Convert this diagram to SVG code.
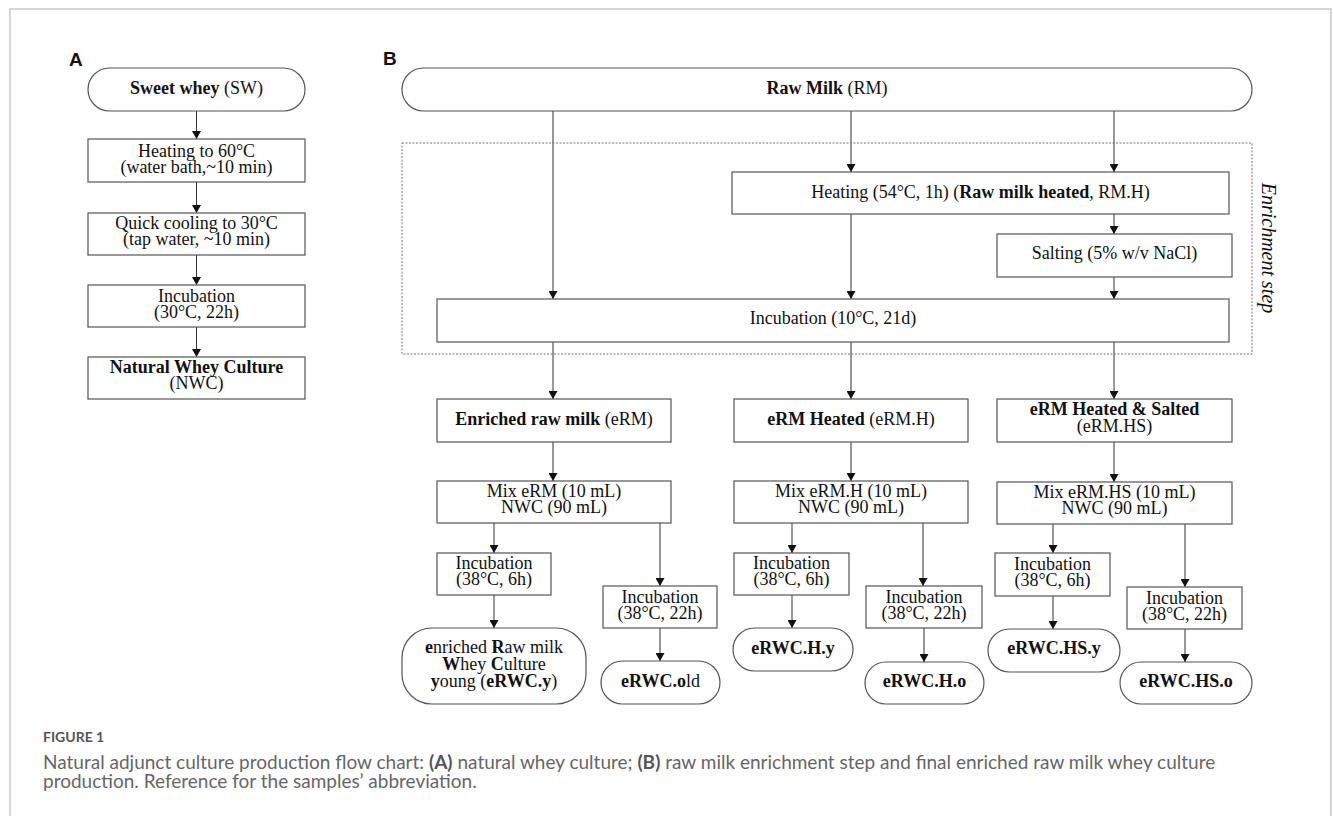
<svg xmlns="http://www.w3.org/2000/svg" width="1333" height="816" viewBox="0 0 1333 816">
<style>
.box{fill:#fff;stroke:#555;stroke-width:1.2}
.dash{fill:none;stroke:#777;stroke-width:1;stroke-dasharray:2,1.5}
.t{font-family:"Liberation Serif","Times New Roman",serif;font-size:18px;fill:#111;text-anchor:middle}
.b{font-weight:bold}
.lbl{font-family:"Liberation Sans",Arial,sans-serif;font-size:19px;font-weight:bold;fill:#111}
.con line{stroke:#333;stroke-width:1;marker-end:url(#ah)}
.cap{font-family:Lato,"Open Sans",sans-serif;fill:#666}
</style>
<defs>
<marker id="ah" markerUnits="userSpaceOnUse" markerWidth="8" markerHeight="9" refX="8" refY="4.5" orient="auto">
<path d="M0,0 L8,4.5 L0,9 z" fill="#111"/>
</marker>
</defs>
<rect x="10" y="9" width="1321" height="830" fill="none" stroke="#bbb" stroke-width="1.2"/>
<text class="lbl" x="69" y="66">A</text>
<text class="lbl" x="383" y="65">B</text>

<g id="connectors" class="con">
<line x1="196.5" y1="111" x2="196.5" y2="139"/>
<line x1="196.5" y1="182" x2="196.5" y2="213"/>
<line x1="196.5" y1="255" x2="196.5" y2="285"/>
<line x1="196.5" y1="327" x2="196.5" y2="357"/>
<line x1="553" y1="111" x2="553" y2="299"/>
<line x1="851" y1="111" x2="851" y2="172"/>
<line x1="1114" y1="111" x2="1114" y2="172"/>
<line x1="851" y1="214" x2="851" y2="299"/>
<line x1="1114" y1="214" x2="1114" y2="234"/>
<line x1="1114" y1="277" x2="1114" y2="299"/>
<line x1="553" y1="342" x2="553" y2="399"/>
<line x1="851" y1="342" x2="851" y2="399"/>
<line x1="1114" y1="342" x2="1114" y2="399"/>
<line x1="553" y1="442" x2="553" y2="481"/>
<line x1="851" y1="442" x2="851" y2="481"/>
<line x1="1114" y1="442" x2="1114" y2="482"/>
<line x1="494" y1="523" x2="494" y2="553"/>
<line x1="660" y1="523" x2="660" y2="586"/>
<line x1="792" y1="523" x2="792" y2="553"/>
<line x1="923" y1="523" x2="923" y2="586"/>
<line x1="1053" y1="524" x2="1053" y2="553"/>
<line x1="1185" y1="524" x2="1185" y2="587"/>
<line x1="494" y1="595" x2="494" y2="628"/>
<line x1="660" y1="628" x2="660" y2="661"/>
<line x1="792" y1="595" x2="792" y2="628"/>
<line x1="924" y1="628" x2="924" y2="662"/>
<line x1="1053" y1="596" x2="1053" y2="629"/>
<line x1="1185" y1="629" x2="1185" y2="662"/>
</g>

<g id="sw"><rect class="box" x="88" y="68" width="217" height="43" rx="21.5"/>
<text class="t" x="196.5" y="94"><tspan class="b">Sweet whey</tspan> (SW)</text></g>
<g id="heatA"><rect class="box" x="88" y="139" width="217" height="43"/>
<text class="t" x="196.5" y="157">Heating to 60°C</text><text class="t" x="196.5" y="173">(water bath,~10 min)</text></g>
<g id="coolA"><rect class="box" x="88" y="213" width="217" height="42"/>
<text class="t" x="196.5" y="229">Quick cooling to 30°C</text><text class="t" x="196.5" y="245">(tap water, ~10 min)</text></g>
<g id="incA"><rect class="box" x="88" y="285" width="217" height="42"/>
<text class="t" x="196.5" y="302">Incubation</text><text class="t" x="196.5" y="318">(30°C, 22h)</text></g>
<g id="nwc"><rect class="box" x="88" y="357" width="217" height="42"/>
<text class="t b" x="196.5" y="373">Natural Whey Culture</text><text class="t" x="196.5" y="389">(NWC)</text></g>

<g id="enrichment"><rect class="dash" x="402" y="143" width="850" height="211"/>
<text class="t" style="font-style:italic;font-size:20px" transform="translate(1262,248) rotate(90)">Enrichment step</text></g>
<g id="rm"><rect class="box" x="402" y="68" width="850" height="43" rx="21.5"/>
<text class="t" x="827" y="94"><tspan class="b">Raw Milk</tspan> (RM)</text></g>
<g id="heatB"><rect class="box" x="732" y="172" width="497" height="42"/>
<text class="t" x="980.5" y="198">Heating (54°C, 1h) (<tspan class="b">Raw milk heated</tspan>, RM.H)</text></g>
<g id="salt"><rect class="box" x="997" y="234" width="235" height="43"/>
<text class="t" x="1114.5" y="259">Salting (5% w/v NaCl)</text></g>
<g id="inc10"><rect class="box" x="437" y="299" width="792" height="43"/>
<text class="t" x="833" y="324">Incubation (10°C, 21d)</text></g>

<g id="erm"><rect class="box" x="437" y="399" width="234" height="43"/>
<text class="t" x="554" y="425"><tspan class="b">Enriched raw milk</tspan> (eRM)</text></g>
<g id="ermh"><rect class="box" x="734" y="399" width="234" height="43"/>
<text class="t" x="851" y="425"><tspan class="b">eRM Heated</tspan> (eRM.H)</text></g>
<g id="ermhs"><rect class="box" x="997" y="399" width="235" height="43"/>
<text class="t b" x="1114.5" y="415">eRM Heated &amp; Salted</text><text class="t" x="1114.5" y="432">(eRM.HS)</text></g>

<g id="mix1"><rect class="box" x="437" y="481" width="234" height="42"/>
<text class="t" x="554" y="497">Mix eRM (10 mL)</text><text class="t" x="554" y="513">NWC (90 mL)</text></g>
<g id="mix2"><rect class="box" x="734" y="481" width="234" height="42"/>
<text class="t" x="851" y="497">Mix eRM.H (10 mL)</text><text class="t" x="851" y="513">NWC (90 mL)</text></g>
<g id="mix3"><rect class="box" x="997" y="482" width="235" height="42"/>
<text class="t" x="1114.5" y="498">Mix eRM.HS (10 mL)</text><text class="t" x="1114.5" y="514">NWC (90 mL)</text></g>

<g id="inc6a"><rect class="box" x="437" y="553" width="114" height="42"/>
<text class="t" x="494" y="569">Incubation</text><text class="t" x="494" y="585">(38°C, 6h)</text></g>
<g id="inc6b"><rect class="box" x="734" y="553" width="115" height="42"/>
<text class="t" x="791.5" y="569">Incubation</text><text class="t" x="791.5" y="585">(38°C, 6h)</text></g>
<g id="inc6c"><rect class="box" x="995" y="553" width="115" height="43"/>
<text class="t" x="1052.5" y="570">Incubation</text><text class="t" x="1052.5" y="586">(38°C, 6h)</text></g>

<g id="inc22a"><rect class="box" x="603" y="586" width="114" height="42"/>
<text class="t" x="660" y="603">Incubation</text><text class="t" x="660" y="619">(38°C, 22h)</text></g>
<g id="inc22b"><rect class="box" x="866" y="586" width="116" height="42"/>
<text class="t" x="924" y="603">Incubation</text><text class="t" x="924" y="619">(38°C, 22h)</text></g>
<g id="inc22c"><rect class="box" x="1127" y="587" width="115" height="42"/>
<text class="t" x="1184.5" y="604">Incubation</text><text class="t" x="1184.5" y="620">(38°C, 22h)</text></g>

<g id="erwcy"><rect class="box" x="402" y="628" width="184" height="76" rx="30"/>
<text class="t" x="494" y="653"><tspan class="b">e</tspan>nriched <tspan class="b">R</tspan>aw milk</text>
<text class="t" x="494" y="670"><tspan class="b">W</tspan>hey <tspan class="b">C</tspan>ulture</text>
<text class="t" x="494" y="687"><tspan class="b">y</tspan>oung (<tspan class="b">eRWC.y</tspan>)</text></g>
<g id="erwcold"><rect class="box" x="601" y="661" width="119" height="43" rx="21.5"/>
<text class="t" x="660.5" y="687"><tspan class="b">eRWC.o</tspan>ld</text></g>
<g id="erwchy"><rect class="box" x="733" y="628" width="120" height="43" rx="21.5"/>
<text class="t b" x="793" y="654">eRWC.H.y</text></g>
<g id="erwcho"><rect class="box" x="865" y="662" width="119" height="42" rx="21"/>
<text class="t b" x="924.5" y="687">eRWC.H.o</text></g>
<g id="erwchsy"><rect class="box" x="988" y="629" width="132" height="43" rx="21.5"/>
<text class="t b" x="1054" y="654">eRWC.HS.y</text></g>
<g id="erwchso"><rect class="box" x="1120" y="662" width="132" height="42" rx="21"/>
<text class="t b" x="1186" y="687">eRWC.HS.o</text></g>

<text class="cap" x="43" y="742" style="font-size:14px;font-weight:bold;fill:#555">FIGURE 1</text>
<text class="cap" x="43" y="769" style="font-size:19px">Natural adjunct culture production flow chart: <tspan style="font-weight:bold;fill:#555">(A)</tspan> natural whey culture; <tspan style="font-weight:bold;fill:#555">(B)</tspan> raw milk enrichment step and final enriched raw milk whey culture</text>
<text class="cap" x="43" y="788" style="font-size:19px">production. Reference for the samples’ abbreviation.</text>
</svg>
